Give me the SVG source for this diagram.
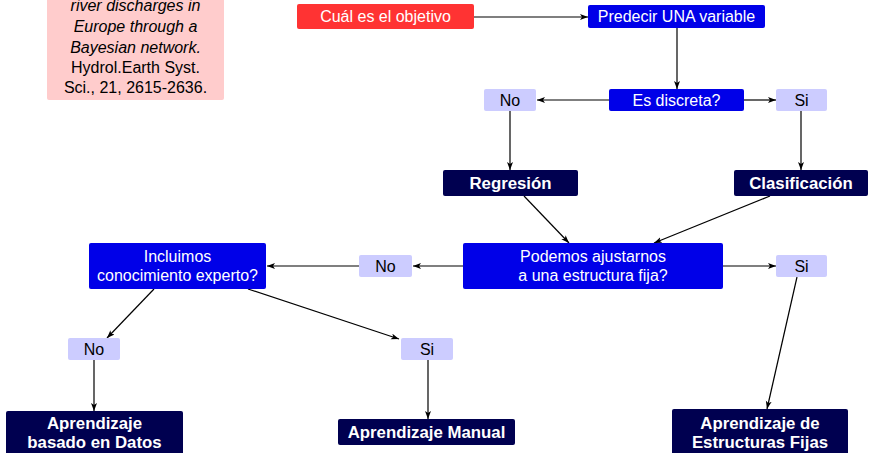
<svg xmlns="http://www.w3.org/2000/svg" width="871" height="453" viewBox="0 0 871 453">
<style>
text{font-family:"Liberation Sans",Arial,sans-serif;font-size:16px;text-anchor:middle}
.w{fill:#ffffff}
.b{font-weight:bold;font-size:16.8px}
.k{fill:#000000}
.it{font-style:italic}
.red{fill:#ff3333}
.blue{fill:#0000e8}
.navy{fill:#000050}
.lav{fill:#ccccff}
.pink{fill:#ffcccc}
.c line{stroke:#000;stroke-width:1.2;marker-end:url(#ah)}
</style>
<defs>
<marker id="ah" markerWidth="9" markerHeight="7" refX="8" refY="3" orient="auto" markerUnits="userSpaceOnUse">
<path d="M0,0 L8,3 L0,6 L2,3 z" fill="#000"/>
</marker>
</defs>
<g id="ref">
<rect class="pink" x="47" y="-12" width="177" height="112" rx="2"/>
<text class="k it" x="135.5" y="11">river discharges in</text>
<text class="k it" x="135.5" y="32">Europe through a</text>
<text class="k it" x="135.5" y="53">Bayesian network.</text>
<text class="k" x="135.5" y="73">Hydrol.Earth Syst.</text>
<text class="k" x="135.5" y="93">Sci., 21, 2615-2636.</text>
</g>
<g class="c" id="connectors">
<line x1="474" y1="17" x2="588" y2="17"/>
<line x1="677" y1="28" x2="677" y2="89"/>
<line x1="609" y1="100" x2="537" y2="100"/>
<line x1="744" y1="100" x2="776" y2="100"/>
<line x1="510" y1="111" x2="510" y2="170"/>
<line x1="801" y1="111" x2="801" y2="170"/>
<line x1="524" y1="196" x2="569" y2="243"/>
<line x1="770" y1="196" x2="654" y2="243"/>
<line x1="463" y1="266" x2="413" y2="266"/>
<line x1="359" y1="266" x2="267" y2="266"/>
<line x1="723" y1="266" x2="776" y2="266"/>
<line x1="154" y1="289" x2="107" y2="338"/>
<line x1="248" y1="289" x2="399" y2="339"/>
<line x1="94" y1="360" x2="94" y2="411"/>
<line x1="428" y1="360" x2="428" y2="419"/>
<line x1="797" y1="277" x2="767" y2="409"/>
</g>
<g id="objetivo"><rect class="red" x="297" y="4" width="177" height="25" rx="2"/><text class="w" x="385.5" y="22">Cuál es el objetivo</text></g>
<g id="predecir"><rect class="blue" x="588" y="5" width="177" height="23" rx="2"/><text class="w" x="676.5" y="22">Predecir UNA variable</text></g>
<g id="discreta"><rect class="blue" x="609" y="89" width="135" height="22" rx="2"/><text class="w" x="676.5" y="106">Es discreta?</text></g>
<g id="no1"><rect class="lav" x="484" y="89" width="52" height="22" rx="2"/><text class="k" x="510" y="106">No</text></g>
<g id="si1"><rect class="lav" x="776" y="89" width="51" height="22" rx="2"/><text class="k" x="801.5" y="106">Si</text></g>
<g id="regresion"><rect class="navy" x="443" y="170" width="135" height="26" rx="2"/><text class="w b" x="510.5" y="189">Regresión</text></g>
<g id="clasificacion"><rect class="navy" x="734" y="170" width="134" height="26" rx="2"/><text class="w b" x="801" y="189">Clasificación</text></g>
<g id="podemos"><rect class="blue" x="463" y="243" width="260" height="46" rx="2"/><text class="w" x="593" y="261.5">Podemos ajustarnos</text><text class="w" x="593" y="280.5">a una estructura fija?</text></g>
<g id="si2"><rect class="lav" x="776" y="255" width="51" height="22" rx="2"/><text class="k" x="801.5" y="272">Si</text></g>
<g id="no2"><rect class="lav" x="359" y="255" width="53" height="22" rx="2"/><text class="k" x="385.5" y="272">No</text></g>
<g id="incluimos"><rect class="blue" x="89" y="243" width="177" height="46" rx="2"/><text class="w" x="177.5" y="261.5">Incluimos</text><text class="w" x="177.5" y="280.5">conocimiento experto?</text></g>
<g id="no3"><rect class="lav" x="68" y="338" width="52" height="22" rx="2"/><text class="k" x="94" y="355">No</text></g>
<g id="si3"><rect class="lav" x="401" y="338" width="52" height="22" rx="2"/><text class="k" x="427" y="355">Si</text></g>
<g id="datos"><rect class="navy" x="6" y="411" width="177" height="50" rx="2"/><text class="w b" x="94.5" y="429">Aprendizaje</text><text class="w b" x="94.5" y="448">basado en Datos</text></g>
<g id="manual"><rect class="navy" x="338" y="419" width="177" height="26" rx="2"/><text class="w b" x="426.5" y="438">Aprendizaje Manual</text></g>
<g id="fijas"><rect class="navy" x="672" y="409" width="176" height="50" rx="2"/><text class="w b" x="760" y="429">Aprendizaje de</text><text class="w b" x="760" y="448">Estructuras Fijas</text></g>
</svg>
